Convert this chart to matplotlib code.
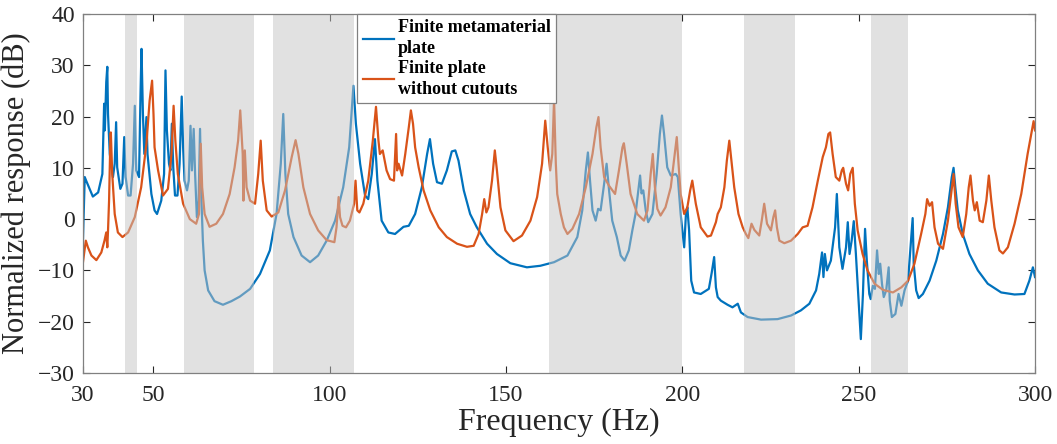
import matplotlib
matplotlib.use("Agg")
import matplotlib.pyplot as plt

# finite metamaterial plate (blue)
metaFreq = [30.0, 30.5, 30.9, 32.8, 34.3, 35.5, 36.0, 36.2, 36.6, 36.9, 37.1, 37.6, 38.5, 39.0, 39.4,
            39.7, 40.6, 41.2, 41.7, 42.1, 42.8, 43.5, 44.2, 44.7, 45.1, 45.9, 46.3, 46.6, 47.0, 47.4,
            48.0, 48.3, 49.4, 50.3, 51.0, 52.2, 53.0, 53.4, 53.8, 54.4, 54.8, 55.2, 55.6, 56.1, 56.8,
            57.4, 58.0, 58.4, 58.8, 59.5, 60.0, 60.5, 60.9, 61.4, 61.8, 62.3, 62.8, 63.2, 63.6, 64.0,
            64.5, 65.5, 67.3, 69.7, 72.1, 74.5, 77.4, 80.2, 83.0, 84.9, 86.1, 86.8, 87.4, 88.2, 89.7,
            92.0, 94.4, 96.7, 99.1, 101.5, 103.8, 105.5, 106.7, 107.4, 108.6, 110.0, 110.9, 111.9, 112.8, 113.5,
            114.7, 116.6, 118.5, 120.9, 122.4, 124.2, 126.1, 127.6, 128.4, 129.3, 130.4, 131.8, 133.2, 134.6, 135.6,
            136.5, 138.0, 139.8, 141.7, 144.6, 147.4, 151.2, 155.9, 159.7, 163.6, 167.4, 170.2, 171.6, 172.6, 173.2,
            173.8, 174.5, 175.4, 176.1, 176.8, 177.8, 178.5, 179.2, 180.1, 181.4, 182.5, 183.6, 184.8, 185.8, 186.7,
            188.0, 188.4, 188.9, 189.6, 190.3, 191.5, 192.7, 193.6, 194.2, 194.8, 195.7, 196.7, 198.1, 198.7, 199.5,
            200.5, 201.0, 201.4, 201.9, 202.5, 203.3, 205.2, 207.5, 208.3, 209.0, 209.5, 210.0, 210.9, 212.8, 214.2,
            215.7, 216.6, 218.5, 222.3, 227.0, 230.8, 233.6, 236.0, 237.9, 238.8, 239.6, 240.0, 240.4, 241.0, 242.1,
            243.3, 243.8, 244.5, 245.4, 246.4, 246.9, 247.4, 248.0, 248.6, 249.2, 249.9, 250.6, 251.2, 251.8, 252.3,
            253.0, 253.4, 254.0, 254.6, 255.2, 255.7, 256.1, 256.6, 257.1, 257.8, 258.5, 258.8, 259.4, 260.4, 261.3,
            262.1, 263.0, 264.0, 264.7, 265.3, 265.6, 266.3, 267.0, 268.2, 270.1, 272.0, 273.9, 275.3, 276.4, 276.9,
            277.4, 278.1, 279.5, 281.4, 283.8, 286.6, 290.4, 294.2, 297.0, 298.4, 299.4, 300.0]
metaDb = [-4.0, 8.2, 7.5, 4.4, 5.2, 8.8, 22.5, 17.3, 26.7, 29.7, 20.5, 12.7, 8.2, 10.8, 18.9,
          10.1, 5.9, 6.9, 16.0, 8.2, 4.6, 4.6, 10.8, 22.1, 9.5, 8.2, 23.8, 33.2, 20.5, 12.7,
          19.9, 12.7, 4.9, 1.7, 1.0, 3.6, 8.8, 29.0, 17.3, 10.8, 9.5, 18.6, 10.1, 4.6, 4.6,
          10.8, 23.9, 14.0, 7.5, 5.6, 7.5, 18.2, 9.5, 17.6, 8.8, 0.4, 3.6, 17.6, 3.6, -4.2,
          -10.0, -13.9, -16.0, -16.7, -16.0, -15.1, -13.6, -10.7, -6.1, 1.0, 10.8, 20.5, 8.8, 1.0, -3.5,
          -7.1, -8.4, -7.1, -4.2, -0.3, 6.2, 14.0, 26.0, 18.6, 10.8, 4.6, 3.9, 8.8, 15.6, 7.5,
          -0.3, -2.6, -2.9, -1.5, -1.3, 1.0, 6.2, 12.7, 15.6, 10.8, 7.2, 6.9, 9.5, 13.2, 13.4,
          11.4, 5.6, 1.0, -1.6, -4.8, -6.8, -8.6, -9.4, -9.1, -8.4, -7.1, -3.5, 1.7, 9.5, 13.0,
          7.5, 1.7, -0.3, 2.0, 1.7, 6.9, 10.8, 5.6, -0.3, -3.5, -7.1, -8.1, -6.1, -2.2, 1.0,
          8.5, 5.0, 5.6, 1.7, -0.6, 1.0, 8.8, 16.6, 20.2, 16.6, 10.1, 8.5, 8.8, 8.2, 1.0,
          -5.5, 1.0, 2.3, -2.2, -12.0, -14.3, -14.6, -13.6, -10.5, -7.4, -13.3, -15.2, -15.9, -16.7, -17.2,
          -16.5, -18.2, -19.1, -19.6, -19.5, -18.8, -17.8, -16.5, -13.9, -10.7, -6.5, -11.3, -6.8, -10.0, -8.1,
          -1.6, 4.9, -5.5, -9.7, -5.5, -0.6, -6.8, -4.2, -0.4, -6.8, -15.2, -23.4, -14.6, -1.9, -8.1,
          -14.6, -15.6, -13.0, -13.6, -6.1, -10.7, -8.7, -12.6, -15.2, -13.9, -9.4, -15.9, -19.1, -18.5, -14.6,
          -16.9, -13.9, -12.0, -5.5, 0.2, -8.7, -13.9, -15.4, -14.6, -12.0, -8.1, -2.9, 2.3, 8.2, 10.0,
          6.2, 1.7, -2.9, -6.8, -10.0, -12.6, -14.3, -14.7, -14.6, -12.0, -9.4, -11.3]

# finite plate without cutouts (orange)
plateFreq = [30.0, 30.8, 31.4, 32.4, 33.8, 35.2, 36.1, 36.6, 36.9, 37.1, 37.4, 37.8, 37.9, 38.3, 39.0,
             39.9, 41.2, 42.8, 44.7, 46.5, 48.0, 48.9, 49.6, 50.0, 50.3, 51.3, 52.7, 54.1, 55.1, 55.7,
             56.2, 56.9, 58.4, 60.3, 62.1, 62.9, 63.4, 63.8, 64.5, 65.9, 67.8, 69.7, 71.6, 73.0, 74.0,
             74.6, 75.3, 75.5, 75.9, 76.4, 77.4, 78.8, 79.7, 80.4, 81.0, 82.1, 83.5, 85.4, 87.3, 89.2,
             90.3, 91.1, 92.5, 94.4, 96.7, 99.1, 101.3, 101.9, 102.5, 102.9, 103.6, 104.6, 105.7, 106.9, 107.3,
             107.8, 108.4, 109.5, 110.9, 112.2, 113.1, 113.8, 114.2, 115.0, 116.1, 117.1, 118.2, 118.8, 119.1, 119.5,
             120.5, 121.4, 122.4, 123.0, 123.6, 124.2, 125.2, 126.6, 128.5, 130.9, 133.2, 136.1, 138.9, 140.8, 142.2,
             143.2, 143.8, 144.4, 145.0, 146.0, 146.8, 147.4, 148.4, 149.8, 152.1, 154.5, 156.9, 158.8, 160.2, 161.1,
             161.8, 162.5, 163.1, 163.6, 164.1, 164.5, 165.5, 166.4, 167.4, 168.8, 170.7, 172.6, 174.5, 175.6, 176.2,
             176.8, 177.8, 179.2, 180.9, 182.0, 183.0, 183.4, 184.2, 185.3, 187.2, 189.1, 190.1, 191.0, 191.6, 192.2,
             192.9, 193.8, 195.2, 196.7, 197.6, 198.4, 198.9, 199.5, 200.5, 201.4, 202.2, 202.8, 203.8, 205.2, 207.1,
             208.1, 209.5, 210.0, 210.9, 211.9, 212.6, 213.3, 213.9, 214.7, 215.9, 217.1, 218.0, 218.7, 219.6, 220.4,
             221.8, 222.5, 223.2, 224.0, 225.1, 225.8, 226.3, 226.8, 227.5, 228.9, 230.8, 232.7, 234.1, 235.5, 236.9,
             238.4, 239.8, 240.7, 241.4, 241.9, 242.6, 243.5, 244.5, 245.2, 245.6, 246.4, 247.0, 247.6, 248.3, 248.9,
             249.7, 251.1, 252.5, 254.5, 256.9, 259.7, 262.1, 264.0, 265.8, 267.7, 268.9, 269.4, 270.1, 270.8, 271.5,
             272.5, 273.9, 275.3, 276.2, 276.9, 277.5, 278.3, 279.5, 280.5, 281.2, 281.7, 282.4, 282.9, 283.5, 284.3,
             285.2, 286.2, 286.9, 287.6, 288.5, 289.9, 290.9, 292.3, 294.2, 296.1, 297.9, 299.6, 300.0]
plateDb = [-8.4, -4.2, -5.5, -7.1, -8.0, -6.5, -4.2, -2.6, -5.5, -2.3, 3.6, 16.6, 16.9, 8.8, 1.0,
           -2.6, -3.5, -2.6, 0.4, 6.2, 14.7, 23.1, 27.0, 20.5, 14.0, 9.5, 4.6, 5.9, 12.7, 22.1,
           15.3, 8.8, 3.0, 0.0, -0.9, 1.0, 14.7, 6.2, 1.0, -1.5, -0.9, 1.0, 4.9, 10.1, 15.3,
           21.2, 12.7, 3.6, 13.4, 6.2, 3.6, 3.0, 8.8, 15.3, 7.5, 1.7, 0.5, 1.3, 5.6, 12.1,
           15.4, 12.7, 6.2, 1.0, -2.2, -4.1, -4.5, -1.6, 4.3, 0.4, -1.3, -1.6, -0.3, 3.0, 7.5,
           1.7, 1.3, 3.0, 7.5, 15.3, 21.9, 15.3, 12.7, 13.4, 9.5, 7.8, 7.5, 16.6, 9.5, 10.8,
           8.5, 12.7, 17.9, 21.2, 18.6, 14.0, 10.1, 5.6, 1.7, -1.6, -3.5, -4.8, -5.4, -5.2, -2.9,
           1.0, 3.9, 1.3, 2.3, 7.5, 13.4, 9.5, 2.3, -2.2, -4.3, -3.2, -0.3, 4.3, 10.8, 19.2,
           14.0, 9.5, 12.7, 23.4, 10.8, 4.9, 1.0, -1.6, -2.9, -1.9, 1.0, 6.2, 12.7, 17.9, 19.9,
           14.0, 8.2, 6.5, 4.9, 9.5, 14.0, 14.8, 10.8, 4.9, 1.0, -0.3, 1.7, 8.8, 12.7, 6.2,
           2.0, 0.7, 2.3, 6.2, 11.4, 16.0, 10.8, 4.9, 1.0, 2.3, 5.6, 7.5, 3.0, -1.6, -3.4,
           -3.2, -0.6, 1.0, 2.3, 6.2, 11.4, 15.3, 11.4, 6.2, 1.0, -1.6, -2.9, -3.7, -0.9, -2.1,
           -3.2, -0.3, 3.0, -0.9, -2.2, 0.4, 1.7, -1.6, -4.2, -4.7, -4.2, -2.9, -1.6, -1.3, 2.3,
           7.5, 12.1, 14.0, 16.6, 16.9, 12.7, 8.2, 7.5, 9.5, 10.0, 6.9, 5.6, 8.8, 10.0, 3.0,
           -2.2, -6.8, -10.0, -12.6, -13.8, -14.3, -13.3, -12.0, -8.7, -2.9, 1.0, 3.9, 2.6, 3.3, -1.6,
           -4.8, -5.8, -0.3, 4.9, 8.8, 3.0, -1.6, -3.5, 1.0, 6.2, 8.5, 3.6, 1.7, 3.3, -0.3,
           -0.6, 3.6, 8.5, 3.6, -1.6, -6.1, -6.7, -5.5, -0.9, 4.9, 12.7, 19.1, 17.3]

# frequency bands shaded in grey (Hz)
bandStart = [42.0, 58.7, 83.9, 162.3, 217.5, 253.5]
bandEnd = [45.2, 78.4, 107.0, 199.9, 231.9, 263.9]

legendLabels = ['Finite metamaterial\nplate', 'Finite plate\nwithout cutouts']

plt.rcParams['font.family'] = ['Liberation Serif', 'DejaVu Serif']

fig = plt.figure(figsize=(10.57, 4.44), dpi=100)
ax = fig.add_axes([0.0785, 0.16, 0.9007, 0.8085])

ax.plot(metaFreq, metaDb, color='#0072BD', lw=1.6, zorder=2, label=legendLabels[0])
ax.plot(plateFreq, plateDb, color='#D95319', lw=1.6, zorder=2, label=legendLabels[1])

for b0, b1 in zip(bandStart, bandEnd):
    ax.axvspan(b0, b1, facecolor=(0.77, 0.77, 0.77), alpha=0.5, edgecolor='none', zorder=3)

ax.set_xlim(30, 300)
ax.set_ylim(-30, 40)
ax.set_xticks([30, 50, 100, 150, 200, 250, 300])
ax.set_yticks(range(-30, 41, 10))
ax.tick_params(direction='in', length=5, width=0.8, top=True, right=True,
               labelsize=17, colors='#262626')
ax.tick_params(axis='x', pad=9)
ax.tick_params(axis='y', pad=6)
for s in ax.spines.values():
    s.set_color('#808080')
    s.set_linewidth(0.9)
    s.set_zorder(4)

ax.set_xlabel('Frequency (Hz)', fontsize=23, color='#262626', labelpad=1)
ax.set_ylabel('Normalized response (dB)', fontsize=22, color='#262626', labelpad=5)

leg = ax.legend(loc='upper left', bbox_to_anchor=(0.288, 1.0), fancybox=False,
                framealpha=1, edgecolor='#808080', handlelength=1.75, handletextpad=0.2,
                borderpad=0.3, labelspacing=0.15, borderaxespad=0,
                prop={'weight': 'bold', 'size': 13})
for t in leg.get_texts():
    t.set_linespacing(1.3)
leg.get_frame().set_linewidth(0.9)
leg.set_zorder(5)

fig.savefig('out.png', dpi=100)
